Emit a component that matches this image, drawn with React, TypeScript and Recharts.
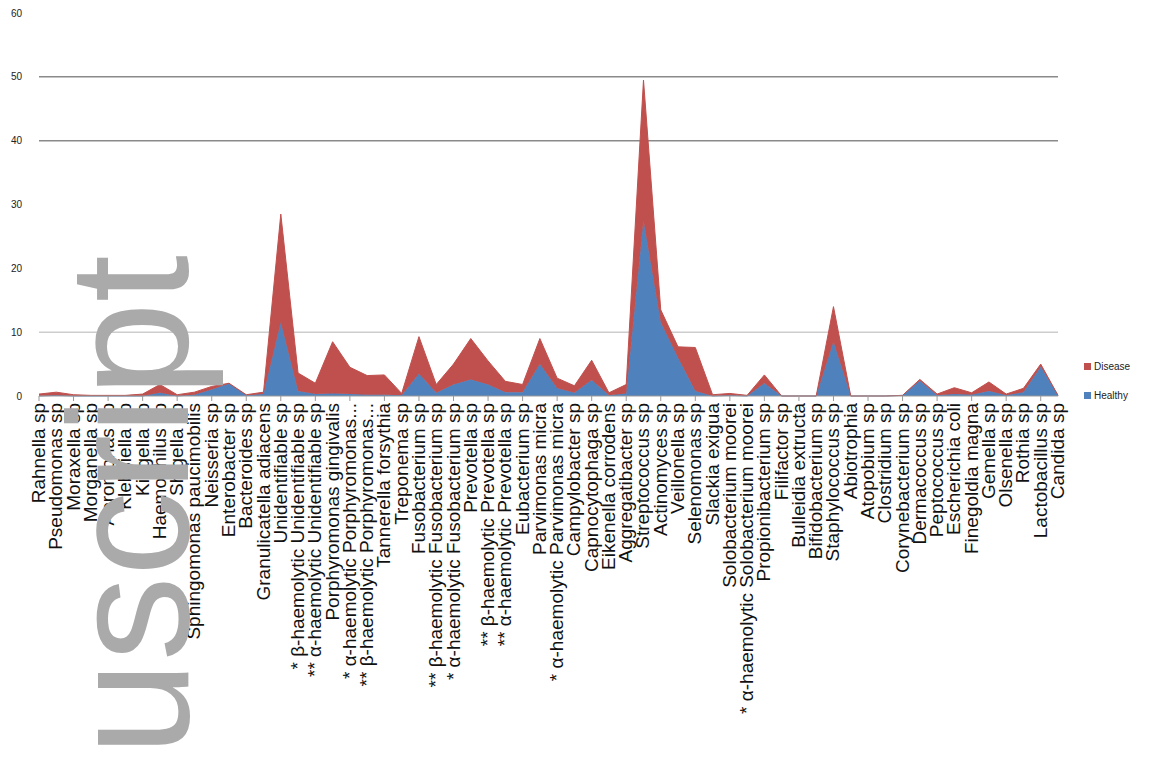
import React from "react";
import { AreaChart, Area, XAxis, YAxis, CartesianGrid } from "recharts";

const categories = [
  "Rahnella sp",
  "Pseudomonas sp",
  "Moraxella sp",
  "Morganella sp",
  "Aeromonas sp",
  "Klebsiella sp",
  "Kingella sp",
  "Haemophilus sp",
  "Shigella sp",
  "Sphingomonas paucimobilis",
  "Neisseria sp",
  "Enterobacter sp",
  "Bacteroides sp",
  "Granulicatella adiacens",
  "Unidentifiable sp",
  "* β-haemolytic Unidentifiable sp",
  "** α-haemolytic Unidentifiable sp",
  "Porphyromonas gingivalis",
  "* α-haemolytic Porphyromonas...",
  "** β-haemolytic Porphyromonas...",
  "Tannerella forsythia",
  "Treponema sp",
  "Fusobacterium sp",
  "** β-haemolytic Fusobacterium sp",
  "* α-haemolytic Fusobacterium sp",
  "Prevotella sp",
  "** β-haemolytic Prevotella sp",
  "** α-haemolytic Prevotella sp",
  "Eubacterium sp",
  "Parvimonas micra",
  "* α-haemolytic Parvimonas micra",
  "Campylobacter sp",
  "Capnocytophaga sp",
  "Eikenella corrodens",
  "Aggregatibacter sp",
  "Streptococcus sp",
  "Actinomyces sp",
  "Veillonella sp",
  "Selenomonas sp",
  "Slackia exigua",
  "Solobacterium moorei",
  "* α-haemolytic Solobacterium moorei",
  "Propionibacterium sp",
  "Filifactor sp",
  "Bulleidia extructa",
  "Bifidobacterium sp",
  "Staphylococcus sp",
  "Abiotrophia",
  "Atopobium sp",
  "Clostridium sp",
  "Corynebacterium sp",
  "Dermacoccus sp",
  "Peptococcus sp",
  "Escherichia coli",
  "Finegoldia magna",
  "Gemella sp",
  "Olsenella sp",
  "Rothia sp",
  "Lactobacillus sp",
  "Candida sp",
];

// bottom series
const healthy = [
  0, 0.1, 0, 0, 0, 0, 0, 0.5, 0, 0.2,
  1.0, 1.9, 0.1, 0.3, 11.5, 0.8, 0.3, 0.4, 0.3, 0.2,
  0.2, 0.1, 3.5, 0.5, 1.8, 2.6, 1.8, 0.6, 0.6, 5.0,
  1.2, 0.5, 2.5, 0.1, 0.4, 27.5, 11.5, 6.0, 0.8, 0,
  0.1, 0, 2.0, 0, 0, 0, 8.5, 0, 0, 0,
  0.1, 2.4, 0.1, 0.3, 0.2, 0.8, 0.1, 0.6, 4.6, 0.1,
];

// stacked on top of healthy
const disease = [
  0.3, 0.5, 0.2, 0.1, 0.1, 0.1, 0.3, 1.3, 0.2, 0.4,
  0.5, 0.1, 0.1, 0.3, 17.0, 2.8, 1.7, 8.1, 4.2, 3.0,
  3.1, 0.3, 5.8, 1.3, 3.2, 6.4, 3.7, 1.7, 1.2, 4.0,
  1.6, 1.1, 3.1, 0.4, 1.4, 22.0, 2.0, 1.7, 6.8, 0.2,
  0.3, 0.1, 1.3, 0, 0, 0, 5.5, 0, 0, 0,
  0, 0.2, 0.2, 1.0, 0.3, 1.4, 0.2, 0.6, 0.4, 0,
];

const yTicks = [0, 10, 20, 30, 40, 50, 60];
const darkGridValues = [40, 50];
const lightGridValues = [10];

const RED = "#C0504D";
const BLUE = "#4F81BD";
const FONT = "'Liberation Sans', Arial, sans-serif";

const data = categories.map((name, i) => ({
  name,
  Healthy: healthy[i],
  Disease: disease[i],
}));

function CategoryTick(props: any) {
  const { x, y, payload, index } = props;
  return (
    <g transform={`translate(${x},${y})`}>
      {index % 2 === 0 && <line x1={0} y1={-8} x2={0} y2={-3} stroke="#999" />}
      <text
        transform="rotate(-90)"
        x={1}
        y={0}
        dy={6}
        textAnchor="end"
        fontSize={19}
        fill="#111"
        fontFamily={FONT}
      >
        {payload.value}
      </text>
    </g>
  );
}

function LegendBox() {
  const items = [
    { label: "Disease", color: RED },
    { label: "Healthy", color: BLUE },
  ];
  return (
    <div
      style={{
        position: "absolute",
        left: 1076,
        top: 344,
        fontFamily: FONT,
        fontSize: 10,
        color: "#222",
      }}
    >
      {items.map((it) => (
        <div key={it.label} style={{ display: "flex", alignItems: "center", height: 29 }}>
          <span
            style={{
              width: 7,
              height: 7,
              background: it.color,
              marginRight: 3,
              display: "inline-block",
            }}
          />
          {it.label}
        </div>
      ))}
    </div>
  );
}

export default function App() {
  return (
    <div style={{ position: "relative", width: 1135, height: 741, fontFamily: FONT }}>
      <AreaChart
        width={1135}
        height={741}
        data={data}
        margin={{ top: 5, right: 85, left: 0, bottom: 0 }}
      >
        <CartesianGrid vertical={false} horizontalValues={lightGridValues} stroke="#b4b4b4" />
        <CartesianGrid
          vertical={false}
          horizontalValues={darkGridValues}
          stroke="#8a8a8a"
          strokeWidth={1.5}
        />
        <XAxis
          dataKey="name"
          interval={0}
          height={353}
          tick={<CategoryTick />}
          tickLine={false}
          axisLine={{ stroke: "#999" }}
        />
        <YAxis
          width={31}
          domain={[0, 60]}
          ticks={yTicks}
          axisLine={false}
          tickLine={false}
          tickMargin={11}
          tick={{ fontSize: 10, fill: "#222", fontFamily: FONT }}
        />
        <Area
          type="linear"
          dataKey="Healthy"
          stackId="a"
          stroke={BLUE}
          fill={BLUE}
          fillOpacity={1}
          isAnimationActive={false}
        />
        <Area
          type="linear"
          dataKey="Disease"
          stackId="a"
          stroke={RED}
          fill={RED}
          fillOpacity={1}
          isAnimationActive={false}
        />
      </AreaChart>
      <LegendBox />
      <svg
        width={1135}
        height={741}
        style={{ position: "absolute", left: 0, top: 0, pointerEvents: "none" }}
      >
        <text
          x={180}
          y={247}
          transform="rotate(-90 180 247)"
          textAnchor="end"
          fontSize={170}
          fontFamily={FONT}
          fill="#aaaaaa"
        >
          Manuscript
        </text>
      </svg>
    </div>
  );
}
